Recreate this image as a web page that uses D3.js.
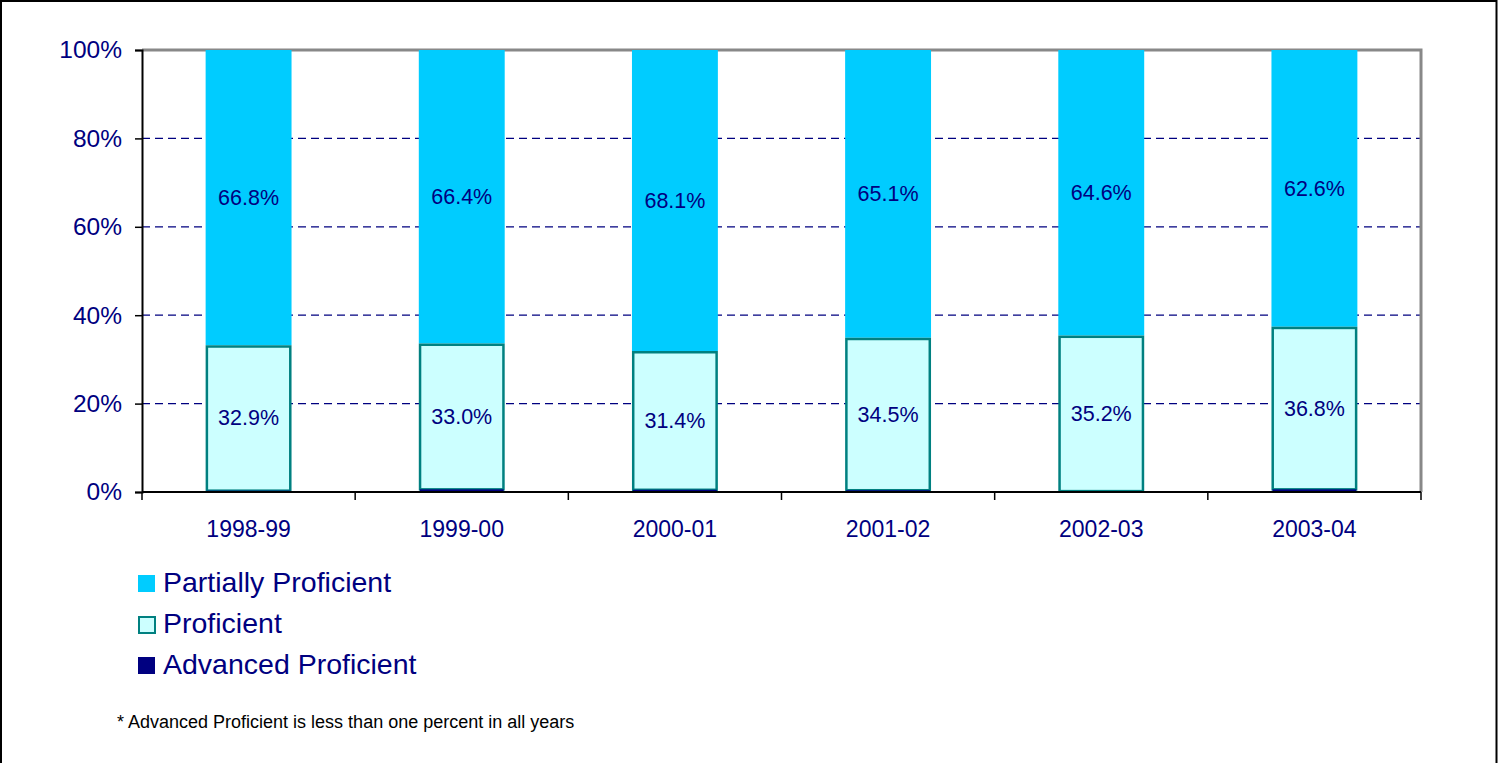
<!DOCTYPE html>
<html>
<head>
<meta charset="utf-8">
<script src="https://cdn.jsdelivr.net/npm/d3@7"></script>
<style>
  body { margin: 0; background: #fff; }
  text { font-family: Arial, "Liberation Sans", sans-serif; }
</style>
</head>
<body>
<div id="chart"></div>
<script>
var years = ["1998-99", "1999-00", "2000-01", "2001-02", "2002-03", "2003-04"];
var advanced = [0.3, 0.6, 0.5, 0.4, 0.2, 0.6];
var proficient = [32.9, 33.0, 31.4, 34.5, 35.2, 36.8];
var partially = [66.8, 66.4, 68.1, 65.1, 64.6, 62.6];
var yTicks = [0, 20, 40, 60, 80, 100];
var seriesNames = ["Partially Proficient", "Proficient", "Advanced Proficient"];
var footnote = "* Advanced Proficient is less than one percent in all years";

var W = 1499, H = 763;
var margin = {top: 50, right: 78, bottom: 271, left: 142};
var width = W - margin.left - margin.right;
var height = H - margin.top - margin.bottom;

var navy = "#000080";

var svg = d3.select("#chart").append("svg")
	.attr("width", W)
	.attr("height", H);

// outer frame (left, top, right)
svg.append("path")
	.attr("d", "M1," + H + "V1H1496.5V" + H)
	.attr("fill", "none")
	.attr("stroke", "#000")
	.attr("stroke-width", 2);

var g = svg.append("g")
	.attr("transform", "translate(" + margin.left + "," + margin.top + ")");

var x = d3.scaleBand()
	.domain(years)
	.range([0, width])
	.paddingInner(0.597)
	.paddingOuter(0.2985);

var y = d3.scaleLinear()
	.domain([0, 100])
	.range([height, 0]);

// grid lines
g.selectAll(".grid")
	.data(yTicks.filter(function(d){ return d > 0 && d < 100; }))
	.enter().append("line")
	.attr("x1", 0).attr("x2", width)
	.attr("y1", function(d){ return y(d); })
	.attr("y2", function(d){ return y(d); })
	.attr("stroke", navy)
	.attr("stroke-width", 1.3)
	.attr("stroke-dasharray", "8,5");

// plot border top/right
g.append("path")
	.attr("d", "M0,0H" + width + "V" + height)
	.attr("fill", "none")
	.attr("stroke", "#888")
	.attr("stroke-width", 3);

var rows = years.map(function(yr, i){
	return {year: yr, adv: advanced[i], prof: proficient[i], part: partially[i]};
});

// partially proficient (top segment)
g.selectAll(".part")
	.data(rows)
	.enter().append("rect")
	.attr("x", function(d){ return x(d.year); })
	.attr("width", x.bandwidth())
	.attr("y", y(100))
	.attr("height", function(d){ return y(d.adv + d.prof) - y(100); })
	.attr("fill", "#00ccff");

// proficient
g.selectAll(".prof")
	.data(rows)
	.enter().append("rect")
	.attr("x", function(d){ return x(d.year) + 1.25; })
	.attr("width", x.bandwidth() - 2.5)
	.attr("y", function(d){ return y(d.adv + d.prof) + 1.25; })
	.attr("height", function(d){ return y(d.adv) - y(d.adv + d.prof) - 1.25; })
	.attr("fill", "#ccffff")
	.attr("stroke", "#008080")
	.attr("stroke-width", 2.5);

// advanced proficient (thin sliver at the base)
g.selectAll(".adv")
	.data(rows)
	.enter().append("rect")
	.attr("x", function(d){ return x(d.year) + 1; })
	.attr("width", x.bandwidth() - 2)
	.attr("y", function(d){ return y(d.adv); })
	.attr("height", function(d){ return y(0) - y(d.adv); })
	.attr("fill", navy);

// value labels
g.selectAll(".lblPart")
	.data(rows)
	.enter().append("text")
	.attr("x", function(d){ return x(d.year) + x.bandwidth() / 2; })
	.attr("y", function(d){ return (y(100) + y(d.adv + d.prof)) / 2; })
	.attr("dy", "0.35em")
	.attr("text-anchor", "middle")
	.attr("font-size", 21.5)
	.attr("fill", navy)
	.text(function(d){ return d.part.toFixed(1) + "%"; });

g.selectAll(".lblProf")
	.data(rows)
	.enter().append("text")
	.attr("x", function(d){ return x(d.year) + x.bandwidth() / 2; })
	.attr("y", function(d){ return (y(d.adv) + y(d.adv + d.prof)) / 2; })
	.attr("dy", "0.35em")
	.attr("text-anchor", "middle")
	.attr("font-size", 21.5)
	.attr("fill", navy)
	.text(function(d){ return d.prof.toFixed(1) + "%"; });

// y axis
var yAxis = g.append("g")
	.call(d3.axisLeft(y).tickValues(yTicks).tickFormat(function(d){ return d + "%"; }).tickSize(7).tickPadding(13));
yAxis.select(".domain").attr("stroke", "#000").attr("stroke-width", 2);
yAxis.selectAll(".tick line").attr("stroke", "#000").attr("stroke-width", 1.5);
yAxis.selectAll("text").attr("font-size", 24.5).attr("fill", navy)
	.style("font-family", "Arial, 'Liberation Sans', sans-serif");

// x axis
var xAxisG = g.append("g")
	.attr("transform", "translate(0," + height + ")");
xAxisG.append("line")
	.attr("x1", 0).attr("x2", width)
	.attr("stroke", "#000").attr("stroke-width", 2);
var xTickPos = d3.range(years.length + 1).map(function(i){ return i * x.step(); });
xAxisG.selectAll(".xtick")
	.data(xTickPos)
	.enter().append("line")
	.attr("x1", function(d){ return d; }).attr("x2", function(d){ return d; })
	.attr("y1", 0).attr("y2", 8)
	.attr("stroke", "#000").attr("stroke-width", 1.5);
xAxisG.selectAll(".xlbl")
	.data(years)
	.enter().append("text")
	.attr("x", function(d){ return x(d) + x.bandwidth() / 2; })
	.attr("y", 45)
	.attr("text-anchor", "middle")
	.attr("font-size", 23)
	.attr("fill", navy)
	.text(function(d){ return d; });

// legend
var legendFill = ["#00ccff", "#ccffff", navy];
var legend = svg.append("g").attr("transform", "translate(138,575)");
var items = legend.selectAll(".item")
	.data(seriesNames)
	.enter().append("g")
	.attr("transform", function(d, i){ return "translate(0," + i * 41 + ")"; });
items.append("rect")
	.attr("x", function(d, i){ return i === 1 ? 1 : 0; })
	.attr("y", function(d, i){ return i === 1 ? 1 : 0; })
	.attr("width", function(d, i){ return i === 1 ? 16 : 17; })
	.attr("height", function(d, i){ return i === 1 ? 16 : 17; })
	.attr("fill", function(d, i){ return legendFill[i]; })
	.attr("stroke", function(d, i){ return i === 1 ? "#008080" : "none"; })
	.attr("stroke-width", 2);
items.append("text")
	.attr("x", 25)
	.attr("y", 7)
	.attr("dy", "0.35em")
	.attr("font-size", 28.5)
	.attr("fill", navy)
	.text(function(d){ return d; });

svg.append("text")
	.attr("x", 117)
	.attr("y", 728)
	.attr("font-size", 18)
	.attr("fill", "#000")
	.text(footnote);
</script>
</body>
</html>
